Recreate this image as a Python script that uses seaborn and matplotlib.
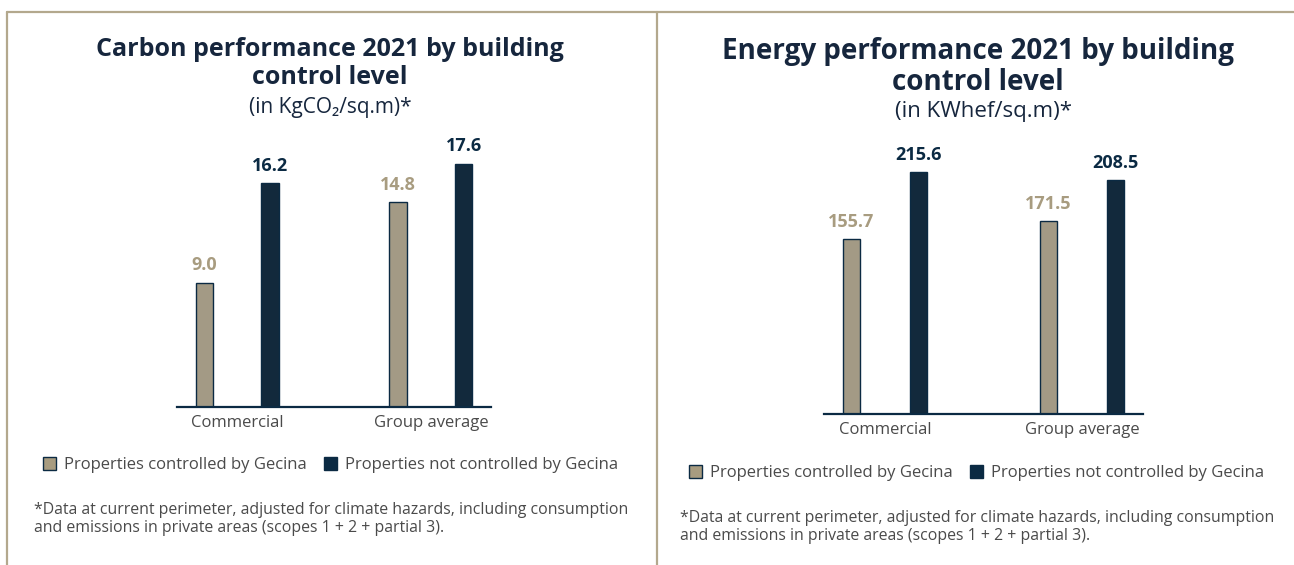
import matplotlib
matplotlib.use("Agg")
import matplotlib.pyplot as plt
import seaborn as sns
import pandas as pd
from matplotlib.patches import Patch
from matplotlib.lines import Line2D

categories = ["Commercial", "Group average"]
series_names = ["Properties controlled by Gecina", "Properties not controlled by Gecina"]
carbon_controlled = [9.0, 14.8]
carbon_not_controlled = [16.2, 17.6]
energy_controlled = [155.7, 171.5]
energy_not_controlled = [215.6, 208.5]

TAN = "#a89c80"
NAVY = "#0b2a43"
TITLE = "#16263d"
BORDER = "#b3a88d"
GREY = "#4a4a4a"

sns.set_theme(style="white")
plt.rcParams["font.family"] = ["Open Sans", "DejaVu Sans"]

W, H = 1294, 565
fig = plt.figure(figsize=(W / 100, H / 100), dpi=100)


def px_ax(left, top, right, bottom):
    return fig.add_axes([left / W, 1 - bottom / H, (right - left) / W, (bottom - top) / H])


def make_df(ctrl, notc):
    rows = []
    for c, v in zip(categories, ctrl):
        rows.append({"cat": c, "grp": series_names[0], "val": v})
    for c, v in zip(categories, notc):
        rows.append({"cat": c, "grp": series_names[1], "val": v})
    return pd.DataFrame(rows)


def draw(ax, ctrl, notc, ymax):
    df = make_df(ctrl, notc)
    sns.barplot(data=df, x="cat", y="val", hue="grp", order=categories,
                hue_order=series_names, palette=[TAN, NAVY], width=0.68, gap=0.74,
                edgecolor=NAVY, linewidth=1.0, legend=False, ax=ax)
    ax.set_xlim(-0.31, 1.31)
    ax.set_ylim(0, ymax)
    ax.set_xlabel("")
    ax.set_ylabel("")
    ax.set_yticks([])
    for s in ["top", "left", "right"]:
        ax.spines[s].set_visible(False)
    ax.spines["bottom"].set_color(NAVY)
    ax.spines["bottom"].set_linewidth(1.6)
    ax.tick_params(axis="x", length=0, pad=5.5, labelsize=12, labelcolor=GREY)
    ax.set_facecolor("none")
    for cont, col in zip(ax.containers, [TAN, NAVY]):
        ax.bar_label(cont, fmt="%.1f", padding=6, color=col, fontsize=13, fontweight="bold")


# Left chart
axL = px_ax(177, 130, 491, 407)
draw(axL, carbon_controlled, carbon_not_controlled, 20.03)
# Right chart
axR = px_ax(824, 140, 1143, 414)
draw(axR, energy_controlled, energy_not_controlled, 244.1)

# Titles
fig.text(330 / W, 1 - 50 / H, "Carbon performance 2021 by building", ha="center", va="center",
         fontsize=18, fontweight="bold", color=TITLE)
fig.text(330 / W, 1 - 78 / H, "control level", ha="center", va="center",
         fontsize=18, fontweight="bold", color=TITLE)
fig.text(330 / W, 1 - 107 / H, "(in KgCO\u2082/sq.m)*", ha="center", va="center",
         fontsize=15, color=TITLE)

fig.text(978 / W, 1 - 51 / H, "Energy performance 2021 by building", ha="center", va="center",
         fontsize=20, fontweight="bold", color=TITLE)
fig.text(978 / W, 1 - 82 / H, "control level", ha="center", va="center",
         fontsize=20, fontweight="bold", color=TITLE)
fig.text(983 / W, 1 - 112 / H, "(in KWhef/sq.m)*", ha="center", va="center",
         fontsize=16, color=TITLE)

# Legends
handles = [Patch(facecolor=TAN, edgecolor=NAVY, linewidth=1.0),
           Patch(facecolor=NAVY, edgecolor=NAVY, linewidth=1.0)]
for x0, y0 in [(28, 465), (674, 473)]:
    fig.legend(handles, series_names, loc="center left",
               bbox_to_anchor=(x0 / W, 1 - y0 / H), ncol=2, frameon=False,
               handlelength=0.8, handleheight=0.8, handletextpad=0.45, columnspacing=1.05,
               prop={"size": 12}, labelcolor=GREY)

# Footnotes
foot = ("*Data at current perimeter, adjusted for climate hazards, including consumption\n"
        "and emissions in private areas (scopes 1 + 2 + partial 3).")
fig.text(34 / W, 1 - 502 / H, foot, ha="left", va="top", fontsize=11.4, color=GREY, linespacing=1.15)
fig.text(680 / W, 1 - 510 / H, foot, ha="left", va="top", fontsize=11.4, color=GREY, linespacing=1.15)

# Frame lines
fig.add_artist(Line2D([7 / W, 1], [1 - 12 / H, 1 - 12 / H], transform=fig.transFigure,
                      color=BORDER, linewidth=1.6))
fig.add_artist(Line2D([7 / W, 7 / W], [0, 1 - 12 / H], transform=fig.transFigure,
                      color=BORDER, linewidth=1.6))
fig.add_artist(Line2D([657 / W, 657 / W], [0, 1 - 12 / H], transform=fig.transFigure,
                      color=BORDER, linewidth=1.6))

fig.savefig("out.png", dpi=100, facecolor="white")
